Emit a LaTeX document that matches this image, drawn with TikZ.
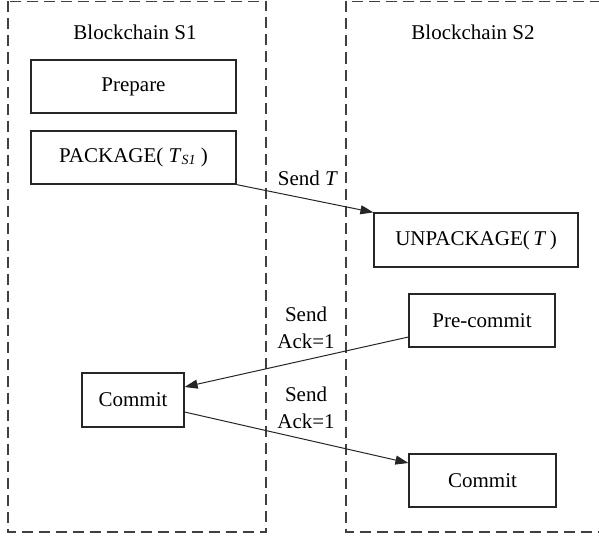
\documentclass[tikz,border=0pt]{standalone}
\usepackage{fontspec}
\setmainfont{Liberation Serif}
\usetikzlibrary{arrows.meta}
\begin{document}
\begin{tikzpicture}[x=1pt,y=-1pt,
  font=\fontsize{21}{27}\selectfont,
  box/.style={draw=black!85,line width=1.2pt,rectangle,inner sep=0pt,align=center},
  chain/.style={draw=black!75,line width=1.3pt,dash pattern=on 11pt off 6pt},
  msg/.style={draw=black!85,line width=1pt,-{Triangle[length=13pt,width=9pt]}},
  lbl/.style={inner sep=0pt,align=center}]
\useasboundingbox (0,0) rectangle (599,535);
\begin{scope}
\clip (0,0) rectangle (599,535);
\draw[chain] (8,1.5) rectangle (266,532);
\draw[chain] (346,1.5) rectangle (640,532);
\end{scope}
\node[lbl] (t1) at (135,32) {Blockchain S1};
\node[lbl] (t2) at (473,32) {Blockchain S2};
\node[box,minimum width=205pt,minimum height=53pt] (prep) at (133.5,86.5) {Prepare};
\node[box,minimum width=205pt,minimum height=53pt] (pack) at (133.5,157.5) {PACKAGE( \textit{T}{\fontsize{14}{14}\selectfont\raisebox{-1.5pt}{\textit{S1}}} )};
\node[box,minimum width=204pt,minimum height=54pt] (unpack) at (476,240) {UNPACKAGE(\,\textit{T}\,)};
\node[box,minimum width=146pt,minimum height=53pt] (pre) at (482,320.5) {Pre-commit};
\node[box,minimum width=102pt,minimum height=54pt] (cl) at (133,400) {Commit};
\node[box,minimum width=147pt,minimum height=53pt] (cr) at (482.5,480.5) {Commit};
\draw[msg] (pack.south east) -- (unpack.north west);
\draw[msg] ([yshift=-16.5pt]pre.west) -- ([yshift=13pt]cl.east);
\draw[msg] ([yshift=-12pt]cl.east) -- ([yshift=17.5pt]cr.west);
\node[lbl] (l1) at (308,178) {Send \textit{T}};
\node[lbl] (l2) at (306,327.5) {Send\\Ack=1};
\node[lbl] (l3) at (306,408) {Send\\Ack=1};
\end{tikzpicture}
\end{document}
